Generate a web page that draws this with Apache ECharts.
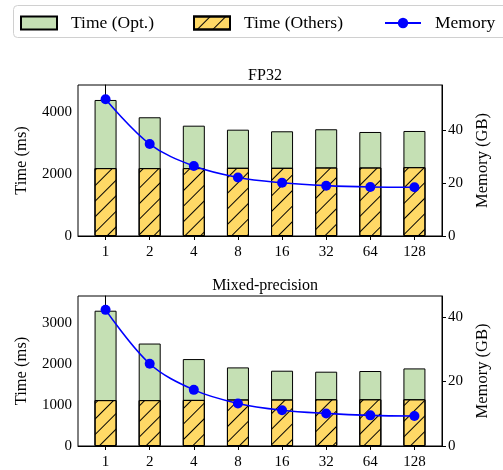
<!DOCTYPE html>
<html><head><meta charset="utf-8">
<script src="https://cdn.jsdelivr.net/npm/echarts@6/dist/echarts.min.js"></script>
<style>html,body{margin:0;padding:0;background:#fff}#c{width:503px;height:470px}</style>
</head><body><div id="c"></div>
<script>
var categories = ['1','2','4','8','16','32','64','128'];
var fp32Others = [2190,2190,2190,2200,2200,2210,2210,2220];
var fp32Total = [4387,3829,3558,3429,3377,3442,3355,3387];
var fp32Memory = [51.6,34.7,26.4,22.1,20.1,19.0,18.5,18.4];
var mixOthers = [1120,1120,1125,1135,1135,1140,1140,1140];
var mixTotal = [3301,2500,2121,1918,1837,1813,1830,1893];
var mixMemory = [42.2,25.5,17.4,13.2,11.1,10.1,9.5,9.3];
var panelTitles = ['FP32','Mixed-precision'];
var leftTicks = [[0,2000,4000],[0,1000,2000,3000]];
var rightTicks = [[0,20,40],[0,20,40]];

var FONT = "'Liberation Serif','DejaVu Serif',serif";
var GREEN = '#c5e0b4', YELLOW = '#ffd966', BLUE = '#0000ff';
var idx = categories.map(function(_, i){ return i; });
function pairs(arr){ return arr.map(function(v,i){ return [i, v]; }); }

var grids = [
  {left:78, right:61, top:85, height:151},
  {left:78, right:61, top:296, height:151}
];
var leftMax = [4870, 3660];
var rightMax = [57, 46.5];
var HATCH = {symbol:'rect', symbolSize:1, color:'#000', dashArrayX:[1,0], dashArrayY:[1,9.5], rotation:-Math.PI/4};

var option = {
  animation:false,
  textStyle:{fontFamily:FONT},
  title: panelTitles.map(function(t,i){
    return {text:t, left:260, textAlign:'center', top: i===0 ? 63 : 273,
      textStyle:{fontFamily:FONT, fontSize:16, fontWeight:'normal', color:'#000'}};
  }),
  graphic:[{type:'rect', left:13, top:5, shape:{width:520, height:32, r:4},
    style:{fill:'#fff', stroke:'#d0d0d0', lineWidth:1}, z:-1}],
  legend:[
    {data:[{name:'Time (Opt.)', icon:'rect'}], left:20, top:14},
    {data:[{name:'Time (Others)', icon:'rect'}], left:193, top:14},
    {data:['Memory'], left:384, top:14}
  ].map(function(l){
    l.itemWidth = 36; l.itemHeight = 13; l.padding = 0;
    l.textStyle = {fontFamily:FONT, fontSize:17.5, color:'#000', padding:[0,0,0,9]};
    return l;
  }),
  grid: grids.map(function(g){ return Object.assign({show:true, borderColor:'#000', borderWidth:1, backgroundColor:'transparent'}, g); }),
  xAxis: grids.map(function(_, i){
    return {type:'value', gridIndex:i, min:-0.625, max:7.625,
      splitLine:{show:false},
      axisLine:{show:true, lineStyle:{color:'#000'}},
      axisTick:{show:true, customValues:idx, length:4, lineStyle:{color:'#000'}},
      axisLabel:{customValues:idx, formatter:function(v){ return categories[Math.round(v)]; },
        fontFamily:FONT, fontSize:15, color:'#000', margin:9}};
  }),
  yAxis: [].concat.apply([], grids.map(function(_, i){
    return [
      {type:'value', gridIndex:i, min:0, max:leftMax[i], position:'left',
        name:'Time (ms)', nameLocation:'middle', nameGap:48,
        nameTextStyle:{fontFamily:FONT, fontSize:16.5, color:'#000'},
        splitLine:{show:false},
        axisLine:{show:true, lineStyle:{color:'#000'}},
        axisTick:{show:true, customValues:leftTicks[i], length:4, lineStyle:{color:'#000'}},
        axisLabel:{customValues:leftTicks[i], formatter:function(v){ return String(v); }, fontFamily:FONT, fontSize:15, color:'#000', margin:6}},
      {type:'value', gridIndex:i, min:0, max:rightMax[i], position:'right',
        name:'Memory (GB)', nameLocation:'middle', nameGap:27,
        nameTextStyle:{fontFamily:FONT, fontSize:16.5, color:'#000'},
        splitLine:{show:false},
        axisLine:{show:true, lineStyle:{color:'#000'}},
        axisTick:{show:true, customValues:rightTicks[i], length:4, lineStyle:{color:'#000'}},
        axisLabel:{customValues:rightTicks[i], formatter:function(v){ return String(v); }, fontFamily:FONT, fontSize:15, color:'#000', margin:6}}
    ];
  })),
  series: []
};

var panels = [
  {others:fp32Others, total:fp32Total, mem:fp32Memory},
  {others:mixOthers, total:mixTotal, mem:mixMemory}
];
panels.forEach(function(p, i){
  option.series.push({
    name:'Time (Opt.)', type:'bar', xAxisIndex:i, yAxisIndex:2*i,
    barWidth:22, barGap:'-100%', data:pairs(p.total),
    itemStyle:{color:GREEN, borderColor:'#000', borderWidth:1}, z:2
  });
  option.series.push({
    name:'Time (Others)', type:'bar', xAxisIndex:i, yAxisIndex:2*i,
    barWidth:22, barGap:'-100%', data:pairs(p.others),
    itemStyle:{color:YELLOW, borderColor:'#000', borderWidth:1, decal:HATCH}, z:3
  });
  option.series.push({
    name:'Memory', type:'line', xAxisIndex:i, yAxisIndex:2*i+1,
    data:pairs(p.mem), smooth:0.35, symbol:'circle', symbolSize:10,
    lineStyle:{color:BLUE, width:1.6}, itemStyle:{color:BLUE}, z:5
  });
});

var chart = echarts.init(document.getElementById('c'), null, {renderer:'canvas'});
chart.setOption(option);
</script></body></html>
